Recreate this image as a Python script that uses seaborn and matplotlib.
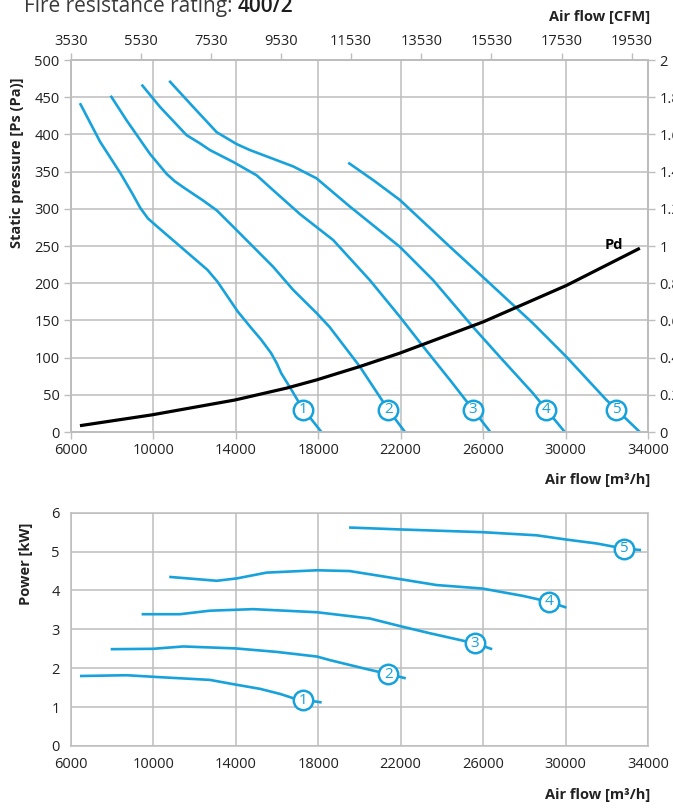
import numpy as np
import matplotlib.pyplot as plt
import seaborn as sns

BLUE = '#17a2dc'
GRID = '#bdbdbd'
TXT = '#222222'

# static pressure curves, air flow [m3/h] / Ps [Pa]
flow_ps_1 = [6450, 7430, 8410, 8980, 9380, 9750, 10200, 11500, 12630, 13120, 13610, 14100, 14750,
             15240, 15720, 16000, 16210, 16700, 17190, 18160]
ps_1 = [442, 390, 348, 321, 301, 287, 276, 245, 218, 202, 182, 162, 140, 124, 106, 92, 79, 57, 34, 0]

flow_ps_2 = [7940, 8710, 9840, 10650, 11050, 11460, 12430, 13080, 13880, 14850, 15820, 16790, 17920,
             18560, 20020, 21400, 22210]
ps_2 = [452, 419, 374, 347, 337, 329, 311, 298, 276, 249, 222, 191, 160, 141, 88, 30, 0]

flow_ps_3 = [9440, 10330, 11620, 12270, 12750, 13880, 15020, 15820, 17115, 18730, 20510, 21960, 23090,
             24390, 25515, 26350]
ps_3 = [467, 437, 399, 388, 379, 363, 345, 325, 293, 258, 204, 155, 115, 70, 30, 0]

flow_ps_4 = [10780, 11940, 13080, 14050, 14690, 16790, 17920, 19540, 21960, 23580, 25515, 26810,
             28420, 29960]
ps_4 = [472, 437, 403, 387, 379, 357, 341, 303, 249, 204, 141, 101, 52, 0]

flow_ps_5 = [19460, 20700, 21960, 24390, 26160, 28420, 30040, 31980, 33600]
ps_5 = [362, 338, 312, 249, 204, 146, 101, 43, 0]

# dynamic pressure
flow_pd = [6450, 9930, 13960, 16470, 17920, 20020, 21960, 26000, 30040, 33600]
pd_vals = [8.5, 23, 43, 59, 70, 88, 106, 148, 197, 247]

# power curves, air flow [m3/h] / P [kW]
flow_kw_1 = [6450, 8710, 10330, 12750, 13880, 15180, 16150, 16790, 18170]
kw_1 = [1.80, 1.82, 1.77, 1.70, 1.59, 1.47, 1.34, 1.23, 1.12]

flow_kw_2 = [7940, 10000, 11460, 14000, 15990, 17950, 18560, 20180, 21400, 22250]
kw_2 = [2.49, 2.50, 2.56, 2.51, 2.42, 2.30, 2.21, 2.00, 1.85, 1.74]

flow_kw_3 = [9440, 11300, 12750, 14850, 17950, 20500, 22000, 23420, 25600, 26440]
kw_3 = [3.39, 3.39, 3.48, 3.52, 3.44, 3.28, 3.08, 2.90, 2.64, 2.49]

flow_kw_4 = [10780, 13080, 14050, 15500, 17950, 19530, 22000, 23740, 25970, 27940, 29190, 30040]
kw_4 = [4.35, 4.25, 4.31, 4.46, 4.52, 4.50, 4.29, 4.14, 4.05, 3.86, 3.71, 3.56]

flow_kw_5 = [19500, 22000, 25970, 28590, 30040, 31500, 32810, 33660]
kw_5 = [5.62, 5.57, 5.50, 5.42, 5.31, 5.21, 5.08, 5.04]

# numbered markers
curve_ids = ['1', '2', '3', '4', '5']
mark_ps_x = [17260, 21400, 25515, 29025, 32467]
mark_ps_y = [30, 30, 30, 30, 30]
mark_kw_x = [17280, 21400, 25600, 29190, 32810]
mark_kw_y = [1.18, 1.85, 2.64, 3.71, 5.08]

flow_ticks = list(range(6000, 34001, 4000))
cfm_ticks = list(range(3530, 19531, 2000))

sns.set_theme(style='whitegrid')
plt.rcParams['font.family'] = ['Open Sans', 'DejaVu Sans']
plt.rcParams['lines.solid_joinstyle'] = 'round'
plt.rcParams['lines.solid_capstyle'] = 'butt'

fig = plt.figure(figsize=(6.73, 8.09), dpi=100)
ax = fig.add_axes([0.105, 0.466, 0.858, 0.4598])
axp = fig.add_axes([0.105, 0.0779, 0.858, 0.2883])


def style(a):
    a.grid(True, color=GRID, lw=1.1)
    for s in a.spines.values():
        s.set_color(GRID)
        s.set_linewidth(1.1)
    a.tick_params(axis='both', direction='out', length=5, width=1, color=GRID,
                  labelsize=10.5, labelcolor=TXT, pad=3)


def markers(a, xs, ys):
    a.plot(xs, ys, 'o', ms=14, mfc='white', mec=BLUE, mew=1.8, zorder=6, clip_on=False)
    for xx, yy, t in zip(xs, ys, curve_ids):
        a.text(xx, yy, t, color=BLUE, fontsize=11, ha='center', va='center', zorder=7)


# --- static pressure chart
for fx, fy in [(flow_ps_1, ps_1), (flow_ps_2, ps_2), (flow_ps_3, ps_3),
               (flow_ps_4, ps_4), (flow_ps_5, ps_5)]:
    sns.lineplot(x=fx, y=fy, ax=ax, color=BLUE, lw=1.9, sort=False, estimator=None)
sns.lineplot(x=flow_pd, y=pd_vals, ax=ax, color='black', lw=2.3, sort=False, estimator=None, zorder=5)
markers(ax, mark_ps_x, mark_ps_y)
ax.text(32350, 246, 'Pd', fontsize=10.5, fontweight='bold', color='black', ha='center', va='baseline')

ax.set_xlim(6000, 34000)
ax.set_ylim(0, 500)
ax.set_xticks(flow_ticks)
ax.set_yticks(range(0, 501, 50))
style(ax)

axt = ax.twiny()
axt.set_xlim(6000 / 1.7, 34000 / 1.7)
axt.set_xticks(cfm_ticks)
style(axt)
axt.grid(False)

axr = ax.twinx()
axr.set_ylim(0, 2)
axr.set_yticks(np.arange(0, 2.01, 0.2))
axr.set_yticklabels(['%g' % round(v, 1) for v in np.arange(0, 2.01, 0.2)])
style(axr)
axr.grid(False)

# --- power chart
for fx, fy in [(flow_kw_1, kw_1), (flow_kw_2, kw_2), (flow_kw_3, kw_3),
               (flow_kw_4, kw_4), (flow_kw_5, kw_5)]:
    sns.lineplot(x=fx, y=fy, ax=axp, color=BLUE, lw=1.9, sort=False, estimator=None)
markers(axp, mark_kw_x, mark_kw_y)
axp.set_xlim(6000, 34000)
axp.set_ylim(0, 6)
axp.set_xticks(flow_ticks)
axp.set_yticks(range(0, 7))
style(axp)

# --- texts
t = fig.text(24 / 673, 1 - 12 / 809, 'Fire resistance rating: ', fontsize=15, color='#3a3a3a',
             va='baseline')
fig.canvas.draw()
x1 = t.get_window_extent().x1 / fig.bbox.width
fig.text(x1, 1 - 12 / 809, '400/2', fontsize=15, color='#1e1e1e', fontweight='semibold', va='baseline')

lab = dict(fontsize=10.5, fontweight='bold', color=TXT)
fig.text(650 / 673, 1 - 17 / 809, 'Air flow [CFM]', ha='right', va='center', **lab)
fig.text(650 / 673, 1 - 480 / 809, 'Air flow [m³/h]', ha='right', va='center', **lab)
fig.text(650 / 673, 1 - 795 / 809, 'Air flow [m³/h]', ha='right', va='center', **lab)
fig.text(17 / 673, 1 - 163 / 809, 'Static pressure [Ps (Pa)]', rotation=90, ha='center', va='center', **lab)
fig.text(26 / 673, 1 - 564 / 809, 'Power [kW]', rotation=90, ha='center', va='center', **lab)

fig.savefig('out.png', dpi=100)
